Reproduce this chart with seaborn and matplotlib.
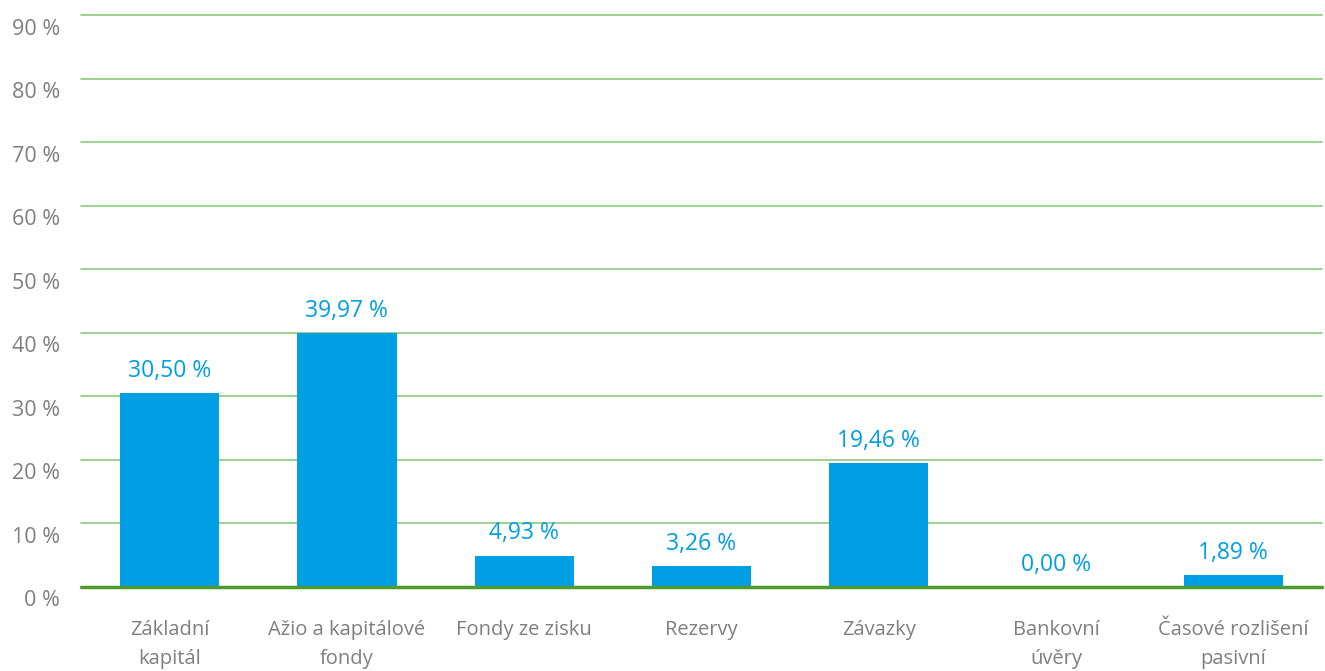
import seaborn as sns
import matplotlib.pyplot as plt
import matplotlib.transforms as mtransforms
import pandas as pd

categories = ["Základní\nkapitál", "Ažio a kapitálové\nfondy", "Fondy ze zisku",
              "Rezervy", "Závazky", "Bankovní\núvěry", "Časové rozlišení\npasivní"]
values = [30.50, 39.97, 4.93, 3.26, 19.46, 0.00, 1.89]
y_ticks = [0, 10, 20, 30, 40, 50, 60, 70, 80, 90]

df = pd.DataFrame({"kategorie": categories, "podil": values})

sns.set_style("white")
plt.rcParams['font.family'] = ['Open Sans', 'DejaVu Sans']

fig = plt.figure(figsize=(13.25, 6.71), dpi=100)
ax = fig.add_axes([0.0611, 0.1252, 0.9366, 0.8524])

sns.barplot(data=df, x="kategorie", y="podil", color="#009FE3", width=0.56,
            saturation=1, linewidth=0, ax=ax, zorder=3)

ax.set_ylim(0, 90)
ax.set_xlim(-0.5, len(categories) - 0.5)
ax.set_yticks(y_ticks)
ax.set_yticklabels([])
for t in y_ticks[1:]:
    ax.axhline(t, color="#8CC97A", lw=1.2, zorder=1, clip_on=False)
ax.axhline(0, color="#4E9A2E", lw=2.5, zorder=4, clip_on=False)

for s in ax.spines.values():
    s.set_visible(False)

ax.tick_params(axis='both', length=0, colors="#7F7F7F")
ax.tick_params(axis='x', pad=24, labelsize=14.5)
for lab in ax.get_xticklabels():
    lab.set_linespacing(1.55)

# y labels sit a bit below their gridline
trans = mtransforms.blended_transform_factory(fig.transFigure, ax.transData)
shift = mtransforms.ScaledTranslation(0, -14 / 100, fig.dpi_scale_trans)
for t in y_ticks:
    ax.text(60 / 1325, t, f"{t} %", transform=trans + shift, ha='right',
            va='center', fontsize=15.5, color="#7F7F7F")

ax.set_xlabel("")
ax.set_ylabel("")

for bar, v in zip(ax.patches, values):
    ax.annotate(f"{v:.2f} %".replace(".", ","),
                (bar.get_x() + bar.get_width() / 2, bar.get_height()),
                xytext=(0, 16), textcoords='offset points',
                ha='center', va='center', fontsize=16.5, color="#009FE3")

fig.savefig("out.png", dpi=100)
